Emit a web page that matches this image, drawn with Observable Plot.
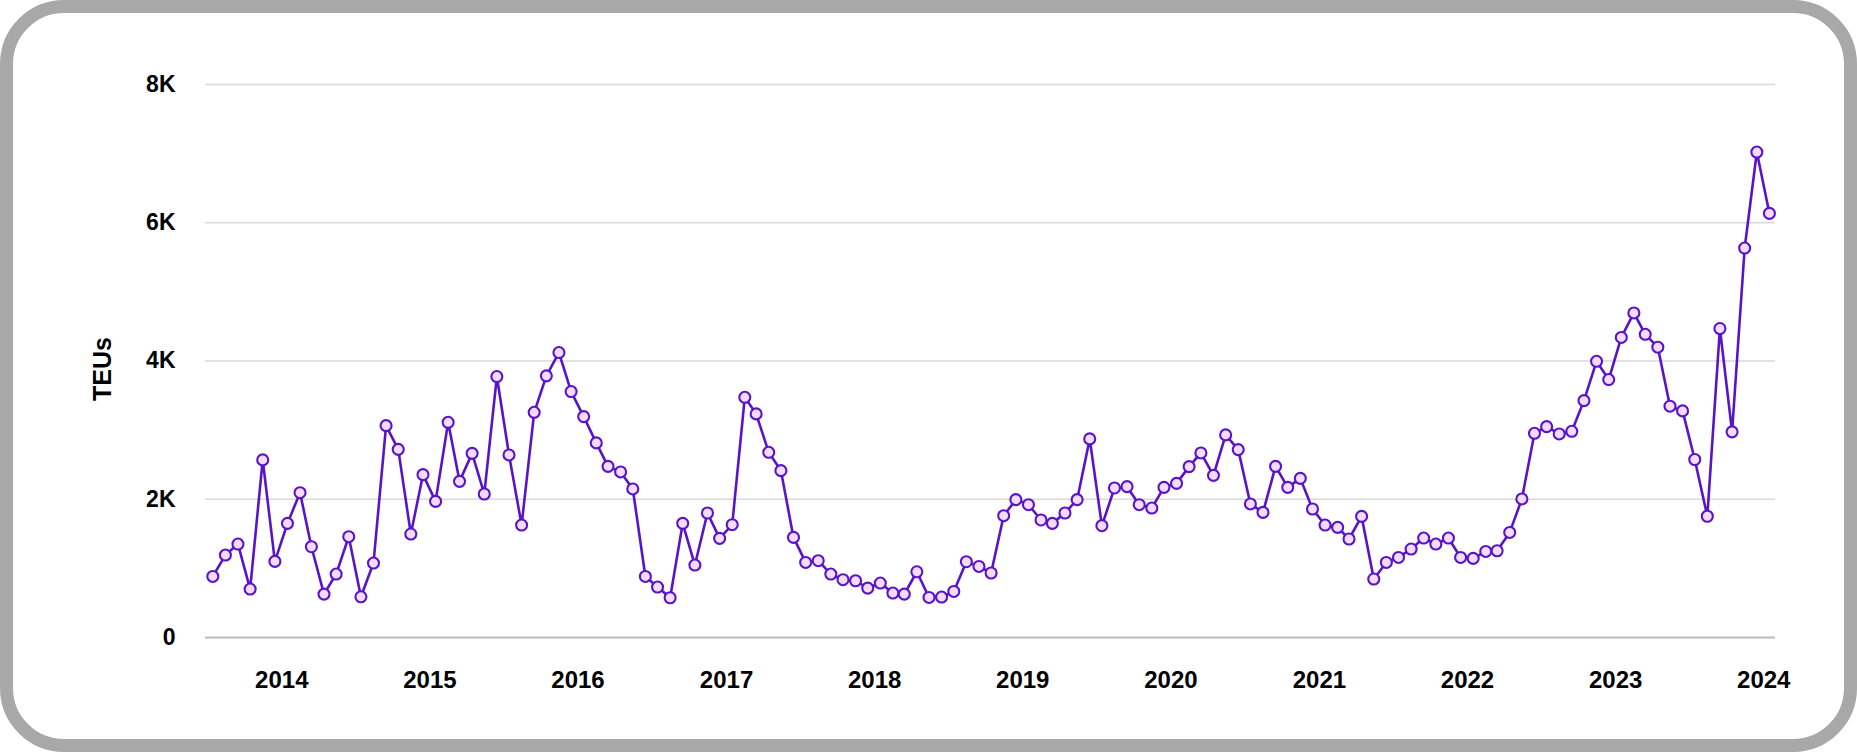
<!DOCTYPE html>
<html><head><meta charset="utf-8">
<script src="https://cdn.jsdelivr.net/npm/d3@7"></script>
<script src="https://cdn.jsdelivr.net/npm/@observablehq/plot@0.6"></script>
<style>
html,body{margin:0;padding:0;background:#fff;}
#wrap{position:relative;width:1857px;height:752px;overflow:hidden;background:#fff;}
#frame{position:absolute;left:0;top:0;width:1857px;height:752px;box-sizing:border-box;border:13px solid #a8a8a8;border-radius:64px;pointer-events:none;}
#chart{position:absolute;left:0;top:0;}
</style></head><body>
<div id="wrap"><div id="chart"></div><div id="frame"></div></div>
<script>
// Monthly TEUs, July 2013 – January 2024
const startYear = 2013, startMonthIndex = 6;
const teus = [
  883, 1193, 1352, 701, 2569, 1101, 1651, 2095, 1313, 628, 918, 1458,
  589, 1077, 3065, 2722, 1497, 2356, 1969, 3113, 2259, 2664, 2076, 3775,
  2641, 1627, 3258, 3785, 4122, 3558, 3196, 2815, 2476, 2395, 2149, 883,
  730, 575, 1651, 1048, 1801, 1434, 1632, 3475, 3235, 2679, 2414, 1448,
  1086, 1111, 918, 836, 821, 715, 788, 643, 628, 951, 579, 585,
  666, 1096, 1028, 933, 1762, 1994, 1921, 1700, 1651, 1801, 1994, 2873,
  1617, 2163, 2182, 1921, 1873, 2172, 2230, 2472, 2670, 2346, 2931, 2718,
  1932, 1810, 2476, 2172, 2302, 1859, 1627, 1593, 1425, 1752, 846, 1086,
  1158, 1280, 1439, 1352, 1439, 1158, 1144, 1245, 1255, 1520, 2004, 2954,
  3051, 2945, 2983, 3427, 3996, 3732, 4341, 4695, 4386, 4200, 3346, 3278,
  2575, 1754, 4470, 2975, 5634, 7023, 6135
];
const yTicks = [0, 2000, 4000, 6000, 8000];
const yTickLabels = ["0", "2K", "4K", "6K", "8K"];
const yearTicks = [2014, 2015, 2016, 2017, 2018, 2019, 2020, 2021, 2022, 2023, 2024];
const yLabel = "TEUs";

const data = teus.map((v, i) => ({date: new Date(Date.UTC(startYear, startMonthIndex + i, 15)), value: v}));
const yearDates = yearTicks.map(y => new Date(Date.UTC(y, 0, 1)));

const lineColor = "#5a14c8";
const font = "'Liberation Sans', Arial, sans-serif";

const chart = Plot.plot({
  width: 1857,
  height: 752,
  marginLeft: 205,
  marginRight: 82,
  marginTop: 84,
  marginBottom: 115,
  style: {fontFamily: font, fontSize: "23px", fontWeight: "bold", color: "#000", background: "transparent", overflow: "visible"},
  x: {type: "utc", domain: [new Date(Date.UTC(2013, 5, 27)), new Date(Date.UTC(2024, 0, 30))]},
  y: {domain: [0, 8000]},
  marks: [
    Plot.gridY(yTicks, {stroke: "#d9d9d9", strokeOpacity: 1, strokeWidth: 1.6}),
    Plot.ruleY([0], {stroke: "#bdbdbd", strokeWidth: 2}),
    Plot.axisY({ticks: yTicks, tickFormat: d => yTickLabels[yTicks.indexOf(d)], tickSize: 0, tickPadding: 30, label: null, fontSize: 23, fontWeight: "bold"}),
    Plot.axisX({ticks: yearDates, tickFormat: d => String(d.getUTCFullYear()), tickSize: 0, tickPadding: 33, label: null, fontSize: 24, fontWeight: "bold"}),
    Plot.text([yLabel], {frameAnchor: "left", dx: -103, dy: 40, rotate: -90, text: d => d, fontSize: 25, fontWeight: "bold", fill: "#000"}),
    Plot.line(data, {x: "date", y: "value", stroke: lineColor, strokeWidth: 2.6}),
    Plot.dot(data, {x: "date", y: "value", r: 5.5, fill: "#f1dcff", stroke: lineColor, strokeWidth: 2.1})
  ]
});
document.getElementById("chart").appendChild(chart);
</script>
</body></html>
